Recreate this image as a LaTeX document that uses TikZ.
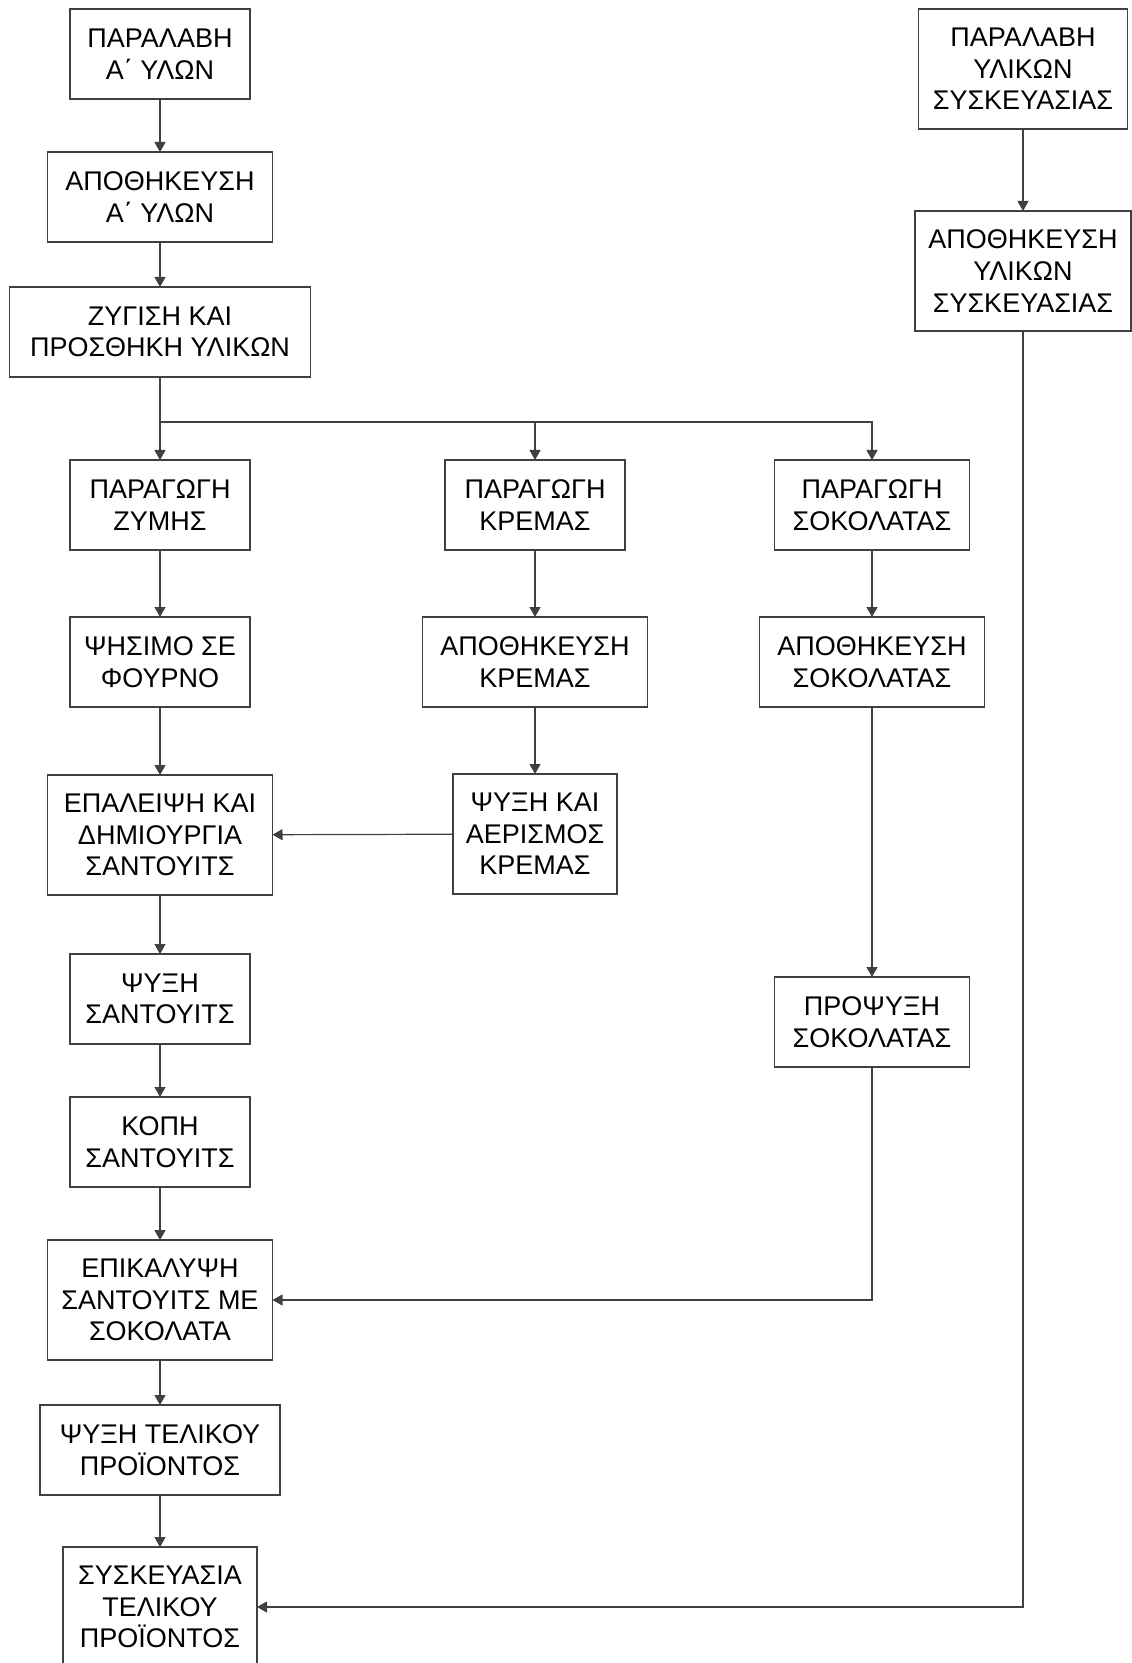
\documentclass[tikz,border=0pt]{standalone}
\usepackage{fontspec}
\setmainfont{Liberation Sans}
\usetikzlibrary{arrows.meta,positioning}

\begin{document}
\begin{tikzpicture}[
    x=0.5pt,y=-0.5pt,
    stepbox/.style={rectangle,draw=black!75,line width=0.6pt,fill=white,
      minimum height=45pt,inner sep=0pt,outer sep=0pt,align=center,
      font=\fontsize{13.5}{15.8}\selectfont},
    tallbox/.style={stepbox,minimum height=60pt},
    arrow/.style={-{Triangle[length=5pt,width=5.5pt]},line width=0.6pt,draw=black!75},
    link/.style={line width=0.6pt,draw=black!75}
  ]
    \useasboundingbox (0,0) rectangle (1131,1663);

    \node[stepbox,minimum width=90pt] (rawrec) at (160,54) {ΠΑΡΑΛΑΒΗ\\Α΄ ΥΛΩΝ};
    \node[stepbox,minimum width=112.5pt,below=26.5pt of rawrec] (rawstore) {ΑΠΟΘΗΚΕΥΣΗ\\Α΄ ΥΛΩΝ};
    \node[stepbox,minimum width=150.5pt,below=22.5pt of rawstore] (weigh) {ΖΥΓΙΣΗ ΚΑΙ\\ΠΡΟΣΘΗΚΗ ΥΛΙΚΩΝ};
    \node[stepbox,minimum width=90pt,below=41.5pt of weigh] (dough) {ΠΑΡΑΓΩΓΗ\\ΖΥΜΗΣ};
    \node[stepbox,minimum width=90pt,below=33.5pt of dough] (bake) {ΨΗΣΙΜΟ ΣΕ\\ΦΟΥΡΝΟ};
    \node[tallbox,minimum width=112.5pt,below=34pt of bake] (spread) {ΕΠΑΛΕΙΨΗ ΚΑΙ\\ΔΗΜΙΟΥΡΓΙΑ\\ΣΑΝΤΟΥΙΤΣ};
    \node[stepbox,minimum width=90pt,below=29.5pt of spread] (coolsand) {ΨΥΞΗ\\ΣΑΝΤΟΥΙΤΣ};
    \node[stepbox,minimum width=90pt,below=26.5pt of coolsand] (cut) {ΚΟΠΗ\\ΣΑΝΤΟΥΙΤΣ};
    \node[tallbox,minimum width=112.5pt,below=26.5pt of cut] (coat) {ΕΠΙΚΑΛΥΨΗ\\ΣΑΝΤΟΥΙΤΣ ΜΕ\\ΣΟΚΟΛΑΤΑ};
    \node[stepbox,minimum width=120pt,below=22.5pt of coat] (coolfinal) {ΨΥΞΗ ΤΕΛΙΚΟΥ\\ΠΡΟΪΟΝΤΟΣ};
    \node[tallbox,minimum width=97pt,below=26pt of coolfinal] (pack) {ΣΥΣΚΕΥΑΣΙΑ\\ΤΕΛΙΚΟΥ\\ΠΡΟΪΟΝΤΟΣ};

    \node[stepbox,minimum width=90pt] (cream) at (535,505) {ΠΑΡΑΓΩΓΗ\\ΚΡΕΜΑΣ};
    \node[stepbox,minimum width=112.5pt,below=33.5pt of cream] (creamstore) {ΑΠΟΘΗΚΕΥΣΗ\\ΚΡΕΜΑΣ};
    \node[tallbox,minimum width=82pt,below=33.5pt of creamstore] (creamcool) {ΨΥΞΗ ΚΑΙ\\ΑΕΡΙΣΜΟΣ\\ΚΡΕΜΑΣ};

    \node[stepbox,minimum width=97.5pt] (choc) at (872,505) {ΠΑΡΑΓΩΓΗ\\ΣΟΚΟΛΑΤΑΣ};
    \node[stepbox,minimum width=112.5pt,below=33.5pt of choc] (chocstore) {ΑΠΟΘΗΚΕΥΣΗ\\ΣΟΚΟΛΑΤΑΣ};
    \node[stepbox,minimum width=97.5pt,below=135pt of chocstore] (precool) {ΠΡΟΨΥΞΗ\\ΣΟΚΟΛΑΤΑΣ};

    \node[tallbox,minimum width=104.5pt] (packrec) at (1023,69) {ΠΑΡΑΛΑΒΗ\\ΥΛΙΚΩΝ\\ΣΥΣΚΕΥΑΣΙΑΣ};
    \node[tallbox,minimum width=108pt,below=41pt of packrec] (packstore) {ΑΠΟΘΗΚΕΥΣΗ\\ΥΛΙΚΩΝ\\ΣΥΣΚΕΥΑΣΙΑΣ};

    \draw[arrow] (rawrec) -- (rawstore);
    \draw[arrow] (rawstore) -- (weigh);
    \draw[link] (weigh.south) -- ++(0,45) coordinate (split);
    \draw[arrow] (split) -- (dough);
    \draw[arrow] (split) -| (choc);
    \draw[arrow] (cream |- split) -- (cream);
    \draw[arrow] (dough) -- (bake);
    \draw[arrow] (bake) -- (spread);
    \draw[arrow] (spread) -- (coolsand);
    \draw[arrow] (coolsand) -- (cut);
    \draw[arrow] (cut) -- (coat);
    \draw[arrow] (coat) -- (coolfinal);
    \draw[arrow] (coolfinal) -- (pack);
    \draw[arrow] (cream) -- (creamstore);
    \draw[arrow] (creamstore) -- (creamcool);
    \draw[arrow] (creamcool) -- (spread);
    \draw[arrow] (choc) -- (chocstore);
    \draw[arrow] (chocstore) -- (precool);
    \draw[arrow] (precool) |- (coat);
    \draw[arrow] (packrec) -- (packstore);
    \draw[arrow] (packstore) |- (pack);
  \end{tikzpicture}
\end{document}
